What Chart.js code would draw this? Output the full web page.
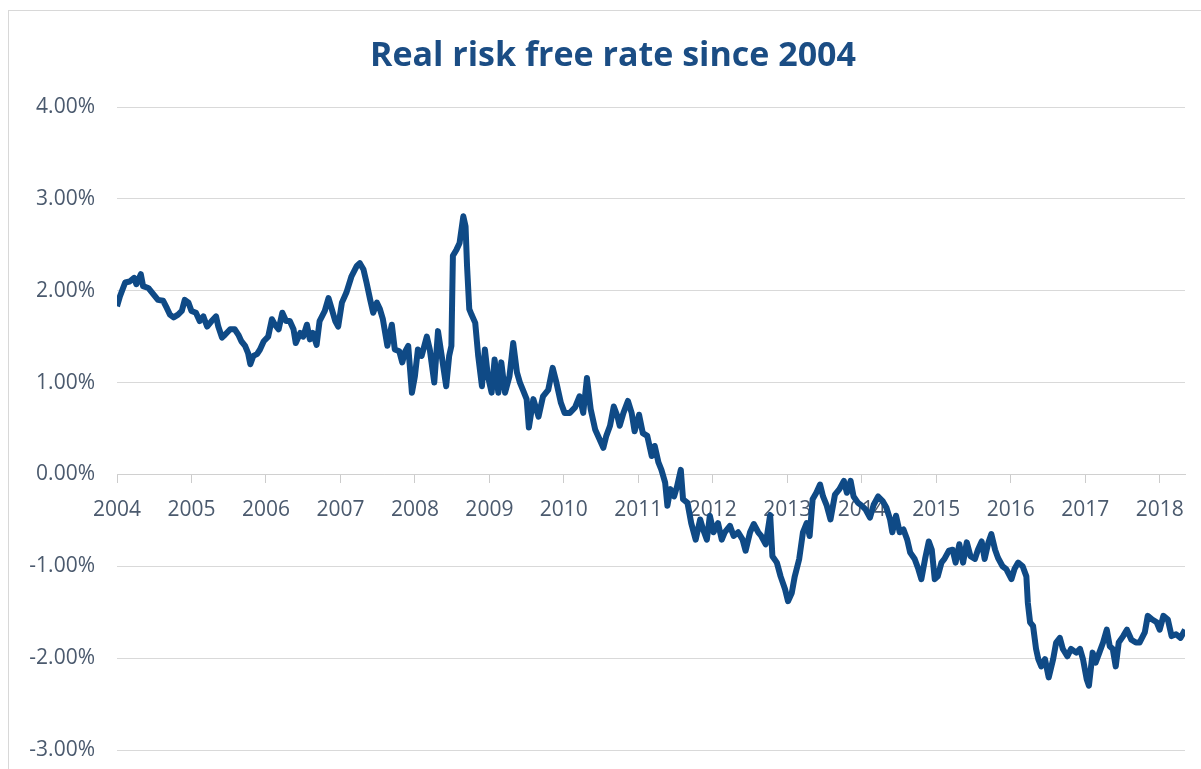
<!DOCTYPE html>
<html><head><meta charset="utf-8">
<script src="https://cdn.jsdelivr.net/npm/chart.js@4/dist/chart.umd.min.js"></script>
<style>
html,body{margin:0;padding:0;background:#fff;}
#wrap{position:relative;width:1201px;height:769px;overflow:hidden;}
#frame{position:absolute;left:8px;top:10px;width:1300px;height:900px;border-left:1px solid #d8d8d8;border-top:1px solid #d8d8d8;}
canvas{position:absolute;left:0;top:0;}
</style></head>
<body><div id="wrap"><div id="frame"></div><canvas id="c" width="1201" height="769"></canvas></div>
<script>
const chartTitle = 'Real risk free rate since 2004';
const years = [
2004.00,2004.04,2004.11,2004.17,2004.23,2004.26,2004.32,2004.35,2004.42,2004.49,2004.55,2004.62,2004.67,2004.71,2004.76,2004.82,2004.87,2004.91,2004.96,
2005.00,2005.06,2005.11,2005.16,2005.21,2005.27,2005.33,2005.36,2005.41,2005.45,2005.52,2005.58,2005.63,2005.67,2005.72,2005.76,2005.79,2005.83,2005.88,2005.92,2005.97,
2006.03,2006.08,2006.12,2006.17,2006.22,2006.27,2006.32,2006.37,2006.40,2006.46,2006.50,2006.55,2006.59,2006.63,2006.68,2006.72,2006.79,2006.84,2006.88,2006.93,2006.97,
2007.02,2007.08,2007.15,2007.22,2007.26,2007.31,2007.35,2007.40,2007.44,2007.49,2007.53,2007.57,2007.63,2007.69,2007.73,2007.79,2007.83,2007.87,2007.91,2007.96,
2008.00,2008.04,2008.09,2008.16,2008.20,2008.26,2008.31,2008.36,2008.42,2008.46,2008.49,2008.51,2008.56,2008.60,2008.65,2008.68,2008.70,2008.73,2008.76,2008.81,2008.85,2008.90,2008.94,2008.98,
2009.03,2009.07,2009.12,2009.16,2009.21,2009.27,2009.32,2009.37,2009.41,2009.45,2009.50,2009.53,2009.59,2009.66,2009.72,2009.79,2009.85,2009.90,2009.96,
2010.01,2010.08,2010.15,2010.21,2010.26,2010.31,2010.36,2010.42,2010.47,2010.53,2010.57,2010.62,2010.67,2010.72,2010.75,2010.80,2010.86,2010.91,2010.95,
2011.01,2011.06,2011.12,2011.18,2011.22,2011.27,2011.31,2011.36,2011.39,2011.43,2011.48,2011.52,2011.57,2011.60,2011.66,2011.71,2011.77,2011.83,2011.87,2011.92,2011.96,
2012.01,2012.07,2012.12,2012.16,2012.23,2012.28,2012.34,2012.40,2012.44,2012.50,2012.55,2012.61,2012.65,2012.71,2012.77,2012.80,2012.86,2012.91,2012.97,
2013.01,2013.06,2013.10,2013.16,2013.21,2013.26,2013.30,2013.34,2013.39,2013.44,2013.48,2013.53,2013.58,2013.64,2013.70,2013.76,2013.80,2013.85,2013.89,2013.95,
2014.00,2014.05,2014.11,2014.16,2014.22,2014.28,2014.33,2014.38,2014.41,2014.46,2014.51,2014.56,2014.61,2014.65,2014.71,2014.76,2014.80,2014.85,2014.90,2014.94,2014.98,
2015.02,2015.07,2015.11,2015.17,2015.22,2015.26,2015.31,2015.36,2015.41,2015.46,2015.52,2015.56,2015.61,2015.65,2015.70,2015.74,2015.79,2015.83,2015.89,2015.94,
2016.01,2016.05,2016.10,2016.16,2016.21,2016.23,2016.26,2016.30,2016.34,2016.37,2016.41,2016.46,2016.51,2016.57,2016.61,2016.66,2016.70,2016.76,2016.81,2016.88,2016.93,2016.97,
2017.02,2017.05,2017.10,2017.14,2017.19,2017.24,2017.29,2017.33,2017.37,2017.41,2017.45,2017.51,2017.56,2017.62,2017.68,2017.73,2017.80,2017.84,2017.90,2017.96,
2018.00,2018.05,2018.11,2018.16,2018.22,2018.28,2018.34
];
const rates = [
1.83,1.94,2.09,2.10,2.14,2.07,2.18,2.05,2.03,1.96,1.90,1.89,1.81,1.74,1.71,1.74,1.78,1.90,1.87,
1.78,1.76,1.67,1.72,1.61,1.67,1.72,1.61,1.49,1.52,1.58,1.58,1.52,1.45,1.40,1.32,1.20,1.29,1.31,1.36,1.45,
1.50,1.69,1.63,1.58,1.76,1.67,1.67,1.58,1.43,1.54,1.50,1.63,1.47,1.54,1.41,1.67,1.78,1.92,1.81,1.67,1.61,
1.87,1.98,2.16,2.27,2.30,2.23,2.09,1.90,1.76,1.87,1.80,1.69,1.40,1.63,1.36,1.34,1.22,1.34,1.40,0.89,
1.07,1.36,1.29,1.50,1.36,1.00,1.56,1.29,0.96,1.29,1.40,2.38,2.45,2.52,2.81,2.70,2.27,1.80,1.74,1.65,1.29,0.96,1.36,1.07,
0.89,1.25,0.89,1.22,0.89,1.07,1.43,1.11,1.00,0.92,0.82,0.51,0.82,0.63,0.85,0.92,1.16,1.00,0.78,
0.67,0.67,0.73,0.85,0.67,1.05,0.71,0.49,0.40,0.29,0.42,0.53,0.74,0.63,0.53,0.67,0.80,0.67,0.47,
0.65,0.45,0.42,0.20,0.31,0.13,0.05,-0.09,-0.34,-0.16,-0.24,-0.13,0.05,-0.27,-0.31,-0.53,-0.71,-0.49,-0.60,-0.71,-0.45,
-0.63,-0.53,-0.71,-0.63,-0.56,-0.67,-0.63,-0.71,-0.83,-0.63,-0.54,-0.63,-0.67,-0.76,-0.44,-0.89,-0.96,-1.11,-1.25,
-1.38,-1.29,-1.11,-0.92,-0.63,-0.53,-0.67,-0.27,-0.20,-0.11,-0.24,-0.34,-0.49,-0.22,-0.16,-0.07,-0.20,-0.07,-0.24,-0.31,
-0.34,-0.38,-0.47,-0.33,-0.24,-0.29,-0.36,-0.49,-0.63,-0.45,-0.63,-0.60,-0.71,-0.85,-0.92,-1.03,-1.14,-0.92,-0.73,-0.82,-1.14,
-1.11,-0.96,-0.92,-0.83,-0.82,-0.96,-0.76,-0.96,-0.74,-0.89,-0.92,-0.82,-0.73,-0.92,-0.74,-0.65,-0.82,-0.91,-1.00,-1.03,
-1.14,-1.03,-0.96,-1.00,-1.11,-1.40,-1.61,-1.65,-1.90,-2.01,-2.09,-2.01,-2.21,-2.01,-1.83,-1.78,-1.90,-1.98,-1.90,-1.94,-1.90,-2.01,
-2.23,-2.30,-1.94,-2.05,-1.94,-1.83,-1.69,-1.87,-1.90,-2.09,-1.83,-1.76,-1.69,-1.80,-1.83,-1.83,-1.72,-1.54,-1.58,-1.61,
-1.69,-1.54,-1.58,-1.76,-1.74,-1.78,-1.69
];
const xTickYears = [2004,2005,2006,2007,2008,2009,2010,2011,2012,2013,2014,2015,2016,2017,2018];
const yTickValues = [-3,-2,-1,0,1,2,3,4];
const xMin = 2004, xMax = 2018.34;

const labelColor = '#4b5a6e';
const gridColor = '#d9d9d9';
const titleColor = '#1b4d84';
Chart.defaults.font.family = "'Open Sans', 'Noto Sans', sans-serif";

const points = years.map((yr, i) => ({x: yr, y: rates[i]}));

const titlePlugin = {
  id: 'centredTitle',
  afterDraw(chart) {
    const ctx = chart.ctx;
    ctx.save();
    ctx.font = "bold 34px 'Open Sans', 'Noto Sans', sans-serif";
    ctx.fillStyle = titleColor;
    ctx.textAlign = 'center';
    ctx.textBaseline = 'middle';
    ctx.fillText(chartTitle, 613, 56);
    ctx.restore();
  }
};

new Chart(document.getElementById('c'), {
  type: 'line',
  data: { datasets: [{
    label: 'Real risk free rate',
    data: points,
    borderColor: '#0f4a86',
    borderWidth: 6,
    pointRadius: 0,
    tension: 0,
    borderJoinStyle: 'round',
    fill: false
  }]},
  options: {
    responsive: false,
    animation: false,
    devicePixelRatio: 1,
    layout: { padding: { left: 0, right: 16, top: 107, bottom: 19 } },
    plugins: {
      legend: { display: false },
      tooltip: { enabled: false },
      title: { display: false }
    },
    scales: {
      x: {
        type: 'linear',
        position: { y: 0 },
        min: xMin, max: xMax,
        afterBuildTicks: s => { s.ticks = xTickYears.map(v => ({ value: v })); },
        grid: { drawOnChartArea: false, drawTicks: true, tickLength: 8, color: '#cccccc' },
        border: { display: true, color: '#d0d0d0' },
        ticks: { autoSkip: false, maxRotation: 0, padding: 15, color: labelColor, font: { size: 21 }, callback: v => String(v) }
      },
      y: {
        min: -3, max: 4,
        afterBuildTicks: s => { s.ticks = yTickValues.map(v => ({ value: v })); },
        afterFit: s => { s.width = 117; s.paddingTop = 13; s.paddingBottom = 13; },
        grid: { color: gridColor, drawTicks: false },
        border: { display: false },
        ticks: { padding: 22, color: labelColor, font: { size: 21 }, callback: v => v.toFixed(2) + '%' }
      }
    }
  },
  plugins: [titlePlugin]
});
</script>
</body></html>
